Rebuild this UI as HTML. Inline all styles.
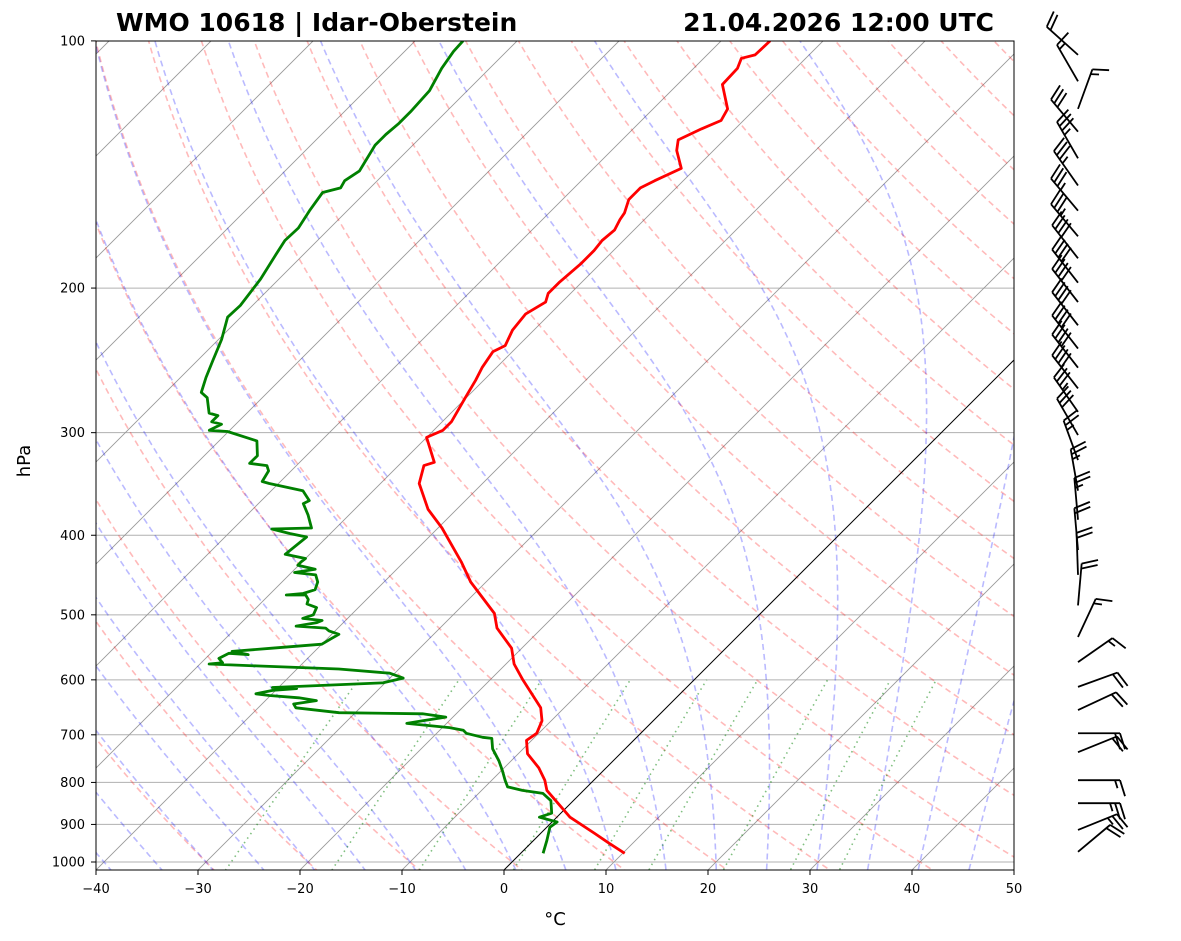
<!DOCTYPE html>
<html><head><meta charset="utf-8"><style>
html,body{margin:0;padding:0;background:#fff;}
svg{display:block;font-family:"DejaVu Sans","Liberation Sans",sans-serif;}
</style></head><body>
<svg id="chart" width="1181" height="941" viewBox="0 0 1181 941" xmlns="http://www.w3.org/2000/svg">
<defs><clipPath id="clip"><rect x="96" y="41" width="918" height="829"/></clipPath></defs>
<rect x="0" y="0" width="1181" height="941" fill="#fff"/>
<g id="bg" clip-path="url(#clip)"></g>
<g id="prof" clip-path="url(#clip)"></g>
<rect x="96" y="41" width="918" height="829" fill="none" stroke="#000" stroke-width="1"/>
<g id="ticks"></g>
<g id="barbs"></g>
<text x="116" y="31" font-size="25" font-weight="bold">WMO 10618 | Idar-Oberstein</text>
<text x="994" y="31" font-size="25" font-weight="bold" text-anchor="end">21.04.2026 12:00 UTC</text>
<text x="30" y="461" font-size="18" text-anchor="middle" transform="rotate(-90 30 461)">hPa</text>
<text x="555" y="925" font-size="18" text-anchor="middle">°C</text>
</svg>
<script>
const tempP=[976,949,923,882,818,795,768,738,711,697,673,649,600,574,549,519,498,456,431,392,372,346,329,326,304,298,291,272,259,250,239,235,225,215,208,203,197,187,180,175,170,165,162,156,151,148,143,136,132,128,125,121,113,108,105,104,100];
const tempT=[10.2,7.7,5.3,1.3,-3.6,-4.8,-6.6,-9.1,-10.5,-10.2,-10.9,-12.3,-16.8,-19.2,-21.0,-24.4,-26.1,-31.5,-34.4,-39.6,-42.8,-46.2,-47.5,-46.8,-50.0,-49.1,-49.1,-50.1,-50.8,-51.4,-51.9,-51.3,-52.1,-52.4,-51.6,-52.2,-52.2,-51.9,-51.9,-52.1,-51.9,-52.4,-52.6,-53.5,-53.5,-52.8,-51.4,-53.6,-54.5,-53.3,-52.2,-52.7,-55.6,-55.7,-56.3,-55.3,-55.2];
const dewP=[976,941,907,894,882,872,842,825,818,810,795,774,753,728,707,705,697,691,686,678,673,666,660,658,649,642,636,631,627,624,618,615,613,605,597,589,582,577,574,572,565,557,559,554,549,543,534,528,523,519,516,511,508,505,500,490,485,479,473,473,471,466,456,447,444,440,435,431,427,422,402,398,393,392,378,366,363,353,346,344,334,329,327,320,307,299,298,293,291,286,284,272,268,257,245,231,217,210,195,182,175,169,161,153,151,148,144,134,130,126,122,115,108,103,100];
const dewT=[2.2,1.3,0.3,0.5,-1.7,-0.9,-2.2,-3.7,-6.0,-7.8,-8.7,-9.9,-11.2,-13.0,-14.1,-15.1,-17.1,-17.7,-19.3,-23.9,-22.6,-20.7,-23.3,-31.6,-36.3,-36.9,-35.0,-37.0,-40.1,-41.6,-40.3,-38.1,-40.6,-30.2,-28.7,-30.5,-35.9,-44.3,-49.1,-47.9,-48.7,-48.2,-46.2,-48.1,-44.5,-40.0,-39.6,-39.3,-40.6,-41.2,-44.3,-42.6,-42.3,-44.4,-43.7,-44.1,-45.4,-45.7,-46.4,-48.3,-46.8,-46.0,-46.5,-47.4,-49.7,-48.0,-50.1,-50.1,-50.0,-52.4,-52.0,-54.0,-56.2,-52.4,-54.0,-55.6,-55.3,-56.9,-60.9,-61.8,-62.2,-62.9,-64.8,-64.8,-66.3,-70.1,-72.0,-71.4,-72.6,-72.6,-73.7,-75.4,-76.5,-77.5,-78.5,-79.7,-81.3,-81.2,-81.8,-82.7,-83.2,-83.1,-83.7,-84.2,-82.9,-83.2,-82.7,-83.7,-83.7,-83.5,-83.5,-83.7,-84.7,-85.2,-85.3];
const barbP=[104,112,121,129,139,150,161,173,184,197,208,222,237,250,265,283,302,324,353,383,417,447,487,532,571,612,653,697,735,795,848,914,972];
const barbDir=[312,330,20,320,330,325,320,320,322,322,322,322,322,322,322,325,330,340,350,355,355,358,5,25,55,70,65,90,68,90,90,68,50];
const barbSpd=[20,15,15,30,35,35,35,35,40,40,40,40,40,40,40,35,30,25,25,25,20,20,20,15,15,20,20,20,20,15,25,25,20];
const isobars=[100,200,300,400,500,600,700,800,900,1000];
const xTicks=[-40,-30,-20,-10,0,10,20,30,40,50];
const dryT0=[-30,-20,-10,0,10,20,30,40,50,60,70,80,90,100,110,120,130,140,150,160,170,180,190,200];
const moistT0=[-40,-35,-30,-25,-20,-15,-10,-5,0,5,10,15,20,25,30,35,40,45];
const mixW=[0.0004,0.001,0.002,0.004,0.007,0.01,0.016,0.024,0.032];

const NS='http://www.w3.org/2000/svg';
function yP(p){return 862+356.6*Math.log(p/1000);}
function xT(T,p){return 504+10.2*T+870-yP(p);}
function mk(tag,attrs,parent){const e=document.createElementNS(NS,tag);for(const k in attrs)e.setAttribute(k,attrs[k]);parent.appendChild(e);return e;}
function pathOf(pts){return pts.map((q,i)=>(i?'L':'M')+q[0].toFixed(1)+' '+q[1].toFixed(1)).join(' ');}
const bg=document.getElementById('bg'),prof=document.getElementById('prof'),ticks=document.getElementById('ticks'),barbs=document.getElementById('barbs');
const pLev=[];for(let i=0;i<=80;i++)pLev.push(1050*Math.pow(100/1050,i/80));

isobars.forEach(p=>{const e=mk('line',{x1:96,x2:1014,y1:yP(p),y2:yP(p),stroke:'#b0b0b0','stroke-width':1},bg);

});
for(let T=-160;T<=50;T+=10){if(T===0)continue;const e=mk('line',{x1:xT(T,1050),y1:yP(1050),x2:xT(T,100),y2:yP(100),stroke:'#999','stroke-width':0.9},bg);

}
dryT0.forEach(t=>{const th=t+273.15;const pts=pLev.map(p=>[xT(th*Math.pow(p/1000,0.2857)-273.15,p),yP(p)]);
const e=mk('path',{d:pathOf(pts),fill:'none',stroke:'rgba(255,0,0,0.27)','stroke-width':1.6,'stroke-dasharray':'6,4'},bg);

});
function dTdp(T,p){const Tc=T-273.15;const es=6.112*Math.exp(17.67*Tc/(Tc+243.5));const rs=0.622*es/(p-es);const Rd=287.04,Cp=1005.7,Lv=2.501e6;return (Rd*T+Lv*rs)/(p*(Cp+Lv*Lv*rs*0.622/(Rd*T*T)));}
function integ(T,p0,p1){const pts=[];const n=Math.ceil(Math.abs(p1-p0)/2);const dp=(p1-p0)/n;let p=p0;for(let i=0;i<=n;i++){pts.push([xT(T-273.15,p),yP(p)]);const k1=dTdp(T,p),k2=dTdp(T+k1*dp/2,p+dp/2),k3=dTdp(T+k2*dp/2,p+dp/2),k4=dTdp(T+k3*dp,p+dp);T+=dp*(k1+2*k2+2*k3+k4)/6;p+=dp;}return pts;}
moistT0.forEach(t=>{const up=integ(t+273.15,1000,100),dn=integ(t+273.15,1000,1050);const pts=dn.reverse().concat(up);
const e=mk('path',{d:pathOf(pts),fill:'none',stroke:'rgba(0,0,255,0.27)','stroke-width':1.6,'stroke-dasharray':'6,4'},bg);

});
mixW.forEach(w=>{const pts=[];for(let p=1050;p>=600;p-=10){const e=w*p/(0.622+w);const l=Math.log(e/6.112);const Td=243.5*l/(17.67-l);pts.push([xT(Td,p),yP(p)]);}
const e=mk('path',{d:pathOf(pts),fill:'none',stroke:'rgba(0,128,0,0.5)','stroke-width':1.6,'stroke-dasharray':'1.5,4'},bg);

});
const z=mk('line',{x1:xT(0,1050),y1:yP(1050),x2:xT(0,100),y2:yP(100),stroke:'#000','stroke-width':1},bg);


const tl=mk('path',{d:pathOf(tempP.map((p,i)=>[xT(tempT[i],p),yP(p)])),fill:'none',stroke:'#ff0000','stroke-width':2.8,'stroke-linejoin':'round'},prof);


const dl=mk('path',{d:pathOf(dewP.map((p,i)=>[xT(dewT[i],p),yP(p)])),fill:'none',stroke:'#008000','stroke-width':2.8,'stroke-linejoin':'round'},prof);


isobars.forEach(p=>{const y=yP(p);mk('line',{x1:91,x2:96,y1:y,y2:y,stroke:'#000'},ticks);
const t=mk('text',{x:85,y:y+4.5,'font-size':13,'text-anchor':'end'},ticks);t.textContent=p;

});
xTicks.forEach(v=>{const x=96+(v+40)*10.2;mk('line',{x1:x,x2:x,y1:870,y2:875,stroke:'#000'},ticks);
const t=mk('text',{x:x,y:893,'font-size':13,'text-anchor':'middle'},ticks);t.textContent=(v<0?'\u2212'+(-v):v);

});
barbP.forEach((p,i)=>{const bx=1078,by=yP(p);const a=barbDir[i]*Math.PI/180;const sx=Math.sin(a),sy=-Math.cos(a);const L=42;
const tx=bx+sx*L,ty=by+sy*L;const g=mk('g',{stroke:'#000','stroke-width':1.8,fill:'none'},barbs);


mk('line',{x1:bx,y1:by,x2:tx,y2:ty},g);
const px=-sy,py=sx;let s=Math.round(barbSpd[i]/5)*5;let k=0;const H=16;
while(s>=10){const ox=tx-sx*k*5,oy=ty-sy*k*5;mk('line',{x1:ox,y1:oy,x2:ox+px*H+sx*5,y2:oy+py*H+sy*5},g);s-=10;k++;}
if(s>=5){if(k===0)k=1;const ox=tx-sx*k*5,oy=ty-sy*k*5;mk('line',{x1:ox,y1:oy,x2:ox+px*H/2+sx*2.5,y2:oy+py*H/2+sy*2.5},g);}
});
</script>
</body></html>
